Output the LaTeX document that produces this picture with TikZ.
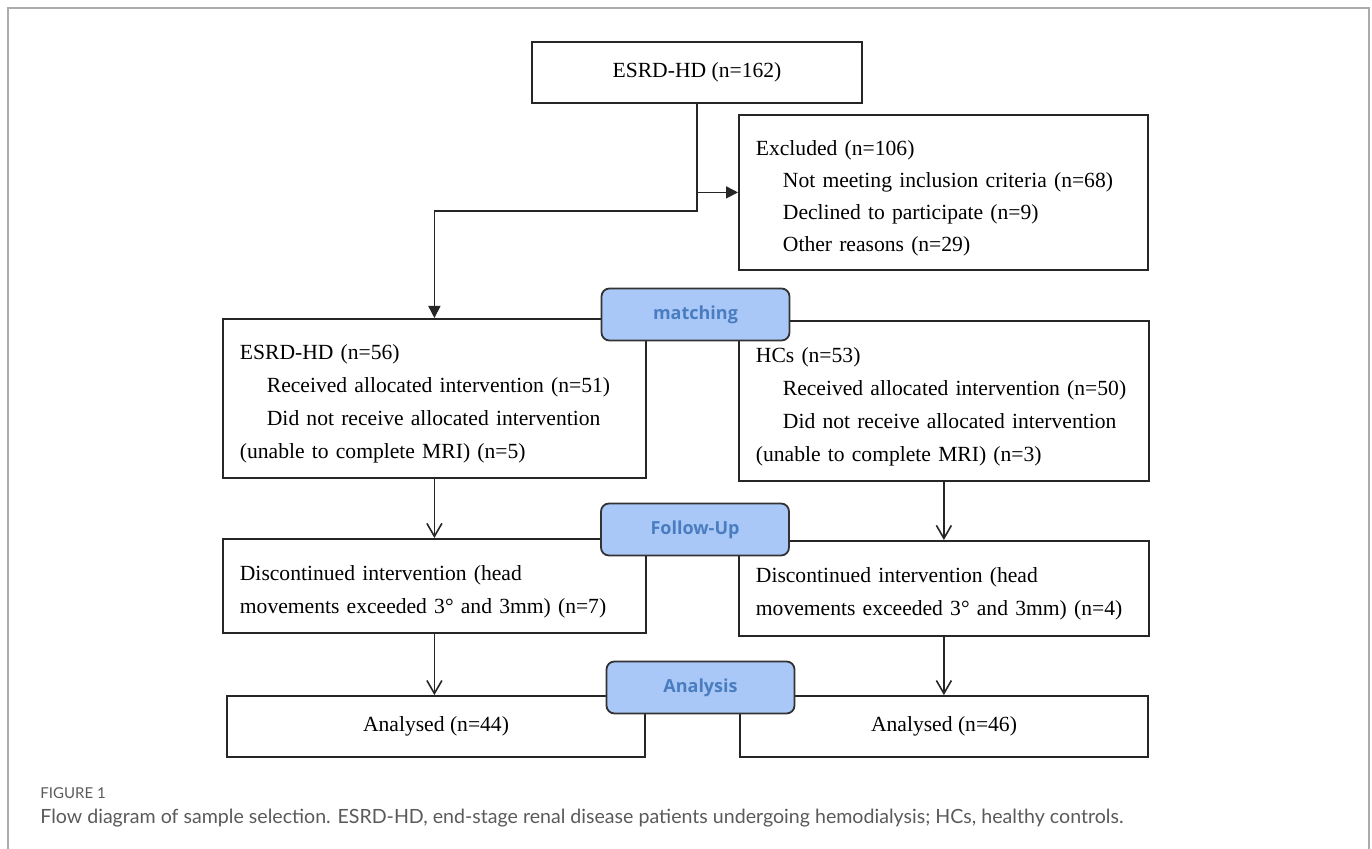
\documentclass[tikz,border=0pt]{standalone}
\usepackage{fontspec}
\setmainfont{Liberation Serif}
\newfontfamily\tagfont{Open Sans}
\newfontfamily\capfont{Lato}
\usepackage{tikz}
\usetikzlibrary{positioning,arrows.meta,calc}
\definecolor{framegray}{HTML}{ABABAB}
\definecolor{tagblue}{HTML}{A9C8F7}
\definecolor{tagtext}{HTML}{4A7DC0}
\definecolor{capgray}{HTML}{5A5A5A}
\newcommand{\indt}{\hspace*{13.5pt}}
\newcommand{\topstrut}{\rule{0pt}{13pt}}

\begin{document}
\begin{tikzpicture}[x=0.5pt,y=-0.5pt,
 box/.style={draw=black!85,line width=0.9pt,inner sep=0pt,font=\fontsize{10.8}{16.5}\selectfont},
 listbox/.style 2 args={box,align=left,anchor=north west,inner xsep=8.5pt,text width=#1,minimum height=#2},
 tag/.style={draw=black!80,line width=0.9pt,fill=tagblue,rounded corners=4pt,text=tagtext,
   font=\tagfont\bfseries\fontsize{9}{11}\selectfont,minimum width=94pt,minimum height=26pt},
 flow/.style={line width=0.8pt,black!85,-{Triangle[length=6pt,width=6pt]}},
 stage/.style={line width=0.8pt,black!85,-{Straight Barb[length=6.5pt,width=7.5pt]}},
 captext/.style={anchor=base west,inner sep=0pt,text=capgray}]
\useasboundingbox (0,0) rectangle (1372,849);
\draw[framegray,line width=0.8pt] (8,849)--(8,8)--(1369,8)--(1369,849);
% enrolment
\node[box,minimum width=165pt,minimum height=30.5pt] (enrol) at (697,72.5) {ESRD-HD (n=162)};
\node[listbox={187.5pt}{77.5pt},font=\fontsize{10.8}{16}\selectfont] (excl) at (738,114) {\topstrut Excluded (n=106)\\
 \indt Not meeting inclusion criteria (n=68)\\
 \indt Declined to participate (n=9)\\
 \indt Other reasons (n=29)};
% allocation
\node[listbox={194.5pt}{79.5pt}] (esrd) at (222,318) {\topstrut ESRD-HD (n=56)\\
 \indt Received allocated intervention (n=51)\\
 \indt Did not receive allocated intervention\\
 (unable to complete MRI) (n=5)};
\node[listbox={188pt}{80pt}] (hcs) at (738,320) {\topstrut HCs (n=53)\\
 \indt Received allocated intervention (n=50)\\
 \indt Did not receive allocated intervention\\
 (unable to complete MRI) (n=3)};
% follow-up
\node[listbox={194.5pt}{47pt}] (esrdfu) at (222,538) {\topstrut Discontinued intervention (head\\
 movements exceeded 3° and 3mm) (n=7)};
\node[listbox={188pt}{47.5pt}] (hcsfu) at (738,540) {\topstrut Discontinued intervention (head\\
 movements exceeded 3° and 3mm) (n=4)};
% analysis
\node[box,minimum width=209pt,minimum height=30.5pt] (esrdan) at (436,726.5) {Analysed (n=44)};
\node[box,minimum width=204pt,minimum height=30.5pt] (hcsan) at (944,726.5) {Analysed (n=46)};
% connectors
\coordinate (split) at (697,211);
\draw[flow] (enrol.south)--(split)-|(esrd.north);
\draw[flow] (enrol.south |- excl.west)--(excl.west);
\draw[stage] (esrd.south)--(esrdfu.north);
\draw[stage] (hcs.south)--(hcsfu.north);
\draw[stage] (esrdfu.south)--(esrdfu.south |- esrdan.north);
\draw[stage] (hcsfu.south)--(hcsfu.south |- hcsan.north);
% stage tags
\node[tag] (match) at (695.5,314.5) {matching};
\node[tag] (follow) at (695,529.5) {Follow-Up};
\node[tag] (anal) at (700.5,687.5) {Analysis};
% caption
\node[captext,font=\capfont\fontsize{7.5}{9}\selectfont] (fig) at (40,799) {FIGURE 1};
\node[captext,font=\capfont\fontsize{9.8}{11}\selectfont] (capt) at (40,824) {Flow diagram of sample selection. ESRD-HD, end-stage renal disease patients undergoing hemodialysis; HCs, healthy controls.};
\end{tikzpicture}
\end{document}
